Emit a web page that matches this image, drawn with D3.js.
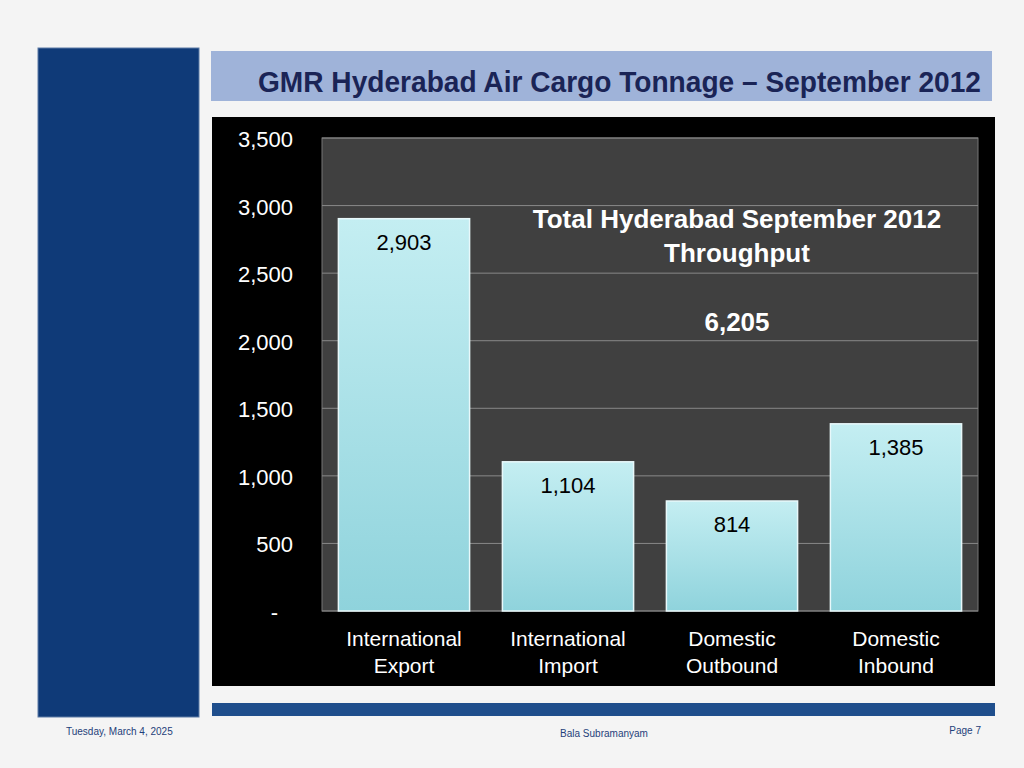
<!DOCTYPE html>
<html><head><meta charset="utf-8">
<script src="https://cdn.jsdelivr.net/npm/d3@7"></script>
<style>body{margin:0;background:#f2f2f2;}svg{display:block;font-family:Arial,"Liberation Sans",sans-serif;}</style>
</head><body><svg id="c" width="1024" height="768"></svg>
<script>
const categories=[["International","Export"],["International","Import"],["Domestic","Outbound"],["Domestic","Inbound"]];
const values=[2903,1104,814,1385];
const yTicks=[0,500,1000,1500,2000,2500,3000,3500];
const totalLabel="6,205";
const svg=d3.select("#c");
svg.append("rect").attr("x",0).attr("y",0).attr("width",1024).attr("height",768).attr("fill","#f4f4f4");
svg.append("rect").attr("x",38).attr("y",48).attr("width",161).attr("height",669).attr("fill","#0f3a78").attr("stroke","#5d7aa5");
svg.append("rect").attr("x",211).attr("y",51).attr("width",781).attr("height",50).attr("fill","#9fb3d9");
svg.append("text").attr("x",258).attr("y",92).attr("font-size",29).attr("font-weight","bold").attr("fill","#1a2456").attr("textLength",723).attr("lengthAdjust","spacingAndGlyphs").text("GMR Hyderabad Air Cargo Tonnage – September 2012");
svg.append("rect").attr("x",212).attr("y",117).attr("width",783).attr("height",569).attr("fill","#000");
svg.append("rect").attr("x",212).attr("y",703).attr("width",783).attr("height",13).attr("fill","#1f4e8c");
const x0=322,x1=978,yT=138,yB=611;
const x=d3.scaleBand().domain(d3.range(4)).range([x0,x1]).paddingInner(0.2).paddingOuter(0.1);
const y=d3.scaleLinear().domain([0,3500]).range([yB,yT]);
svg.append("rect").attr("x",x0).attr("y",yT).attr("width",x1-x0).attr("height",yB-yT).attr("fill","#404040").attr("stroke","#777");
svg.selectAll(".g").data(yTicks).enter().append("line").attr("x1",x0).attr("x2",x1).attr("y1",d=>y(d)).attr("y2",d=>y(d)).attr("stroke","#888").attr("stroke-width",1);
svg.selectAll(".yt").data(yTicks).enter().append("text").attr("y",d=>y(d)+9).attr("text-anchor","end").attr("fill","#fff").attr("font-size",22).text(d=>d===0?"-":d3.format(",")(d)).attr("x",d=>d===0?278:293);
const grad=svg.append("defs").append("linearGradient").attr("id","bg").attr("x1",0).attr("x2",0).attr("y1",0).attr("y2",1);
grad.append("stop").attr("offset","0").attr("stop-color","#c4eef2");
grad.append("stop").attr("offset","1").attr("stop-color","#8fd3dc");
svg.selectAll(".b").data(values).enter().append("rect").attr("x",(d,i)=>x(i)).attr("y",d=>y(d)).attr("width",x.bandwidth()).attr("height",d=>yB-y(d)).attr("fill","url(#bg)").attr("stroke","#e8f8fa").attr("stroke-width",1.5);
svg.selectAll(".v").data(values).enter().append("text").attr("x",(d,i)=>x(i)+x.bandwidth()/2).attr("y",d=>y(d)+31).attr("text-anchor","middle").attr("font-size",22).attr("fill","#000").text(d=>d3.format(",")(d));
categories.forEach((c,i)=>{c.forEach((t,j)=>{svg.append("text").attr("x",x(i)+x.bandwidth()/2).attr("y",646+j*27).attr("text-anchor","middle").attr("fill","#fff").attr("font-size",21).text(t);});});
[["Total Hyderabad September 2012",228],["Throughput",262],[totalLabel,331]].forEach(([t,yy])=>svg.append("text").attr("x",737).attr("y",yy).attr("text-anchor","middle").attr("fill","#fff").attr("font-size",26).attr("font-weight","bold").text(t));
svg.append("text").attr("x",66).attr("y",735).attr("font-size",10).attr("fill","#1f3f7a").text("Tuesday, March 4, 2025");
svg.append("text").attr("x",604).attr("y",737).attr("text-anchor","middle").attr("font-size",10).attr("fill","#1f3f7a").text("Bala Subramanyam");
svg.append("text").attr("x",981).attr("y",734).attr("text-anchor","end").attr("font-size",10).attr("fill","#1f3f7a").text("Page 7");
</script></body></html>
